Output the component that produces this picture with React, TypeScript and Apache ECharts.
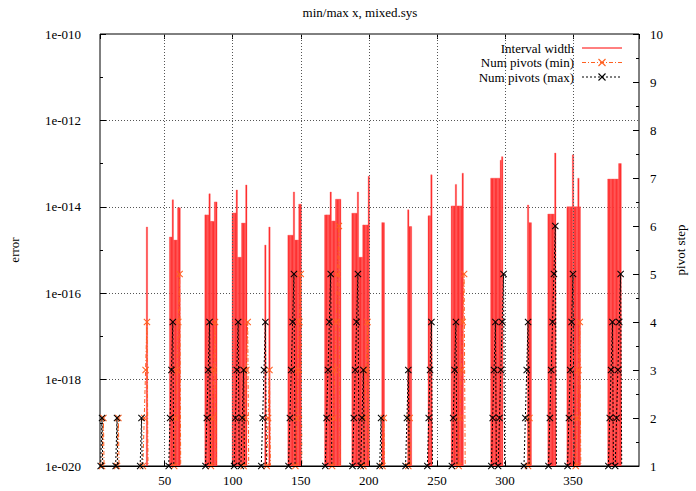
import React, { useEffect, useRef } from 'react';
import * as echarts from 'echarts';

const titleText = 'min/max x, mixed.sys';
const legendLabels = ['Interval width', 'Num pivots (min)', 'Num pivots (max)'];
const leftAxisName = 'error';
const rightAxisName = 'pivot step';

const xMin = 2.5;
const xMax = 398.5;
const xLabelStep = 50;
const errorExpMin = -20;
const errorExpMax = -10;
const errorExpStep = 2;
const pivotAxisMin = 1;
const pivotAxisMax = 10;

// [first x, value at x, value at x+1, ...]
const intervalWidthRuns: number[][] = [
  [37, 3.4e-15],
  [54, 2.0e-15, 2.0e-15, 1.45e-14, 1.7e-15, 1.7e-15, 1.7e-15, 9.5e-15, 9.5e-15],
  [80, 6.5e-15, 6.5e-15, 6.5e-15, 2.0e-14, 4.6e-15, 4.6e-15, 4.6e-15, 1.3e-14, 1.3e-14],
  [100, 7.2e-15, 7.2e-15, 7.2e-15, 2.45e-14, 6.8e-16, 6.8e-16, 6.8e-16, 4.2e-15, 4.2e-15, 4.2e-15, 3.2e-14],
  [124, 1.3e-15],
  [127, 3.4e-15],
  [141, 2.2e-15, 2.2e-15, 2.2e-15, 2.2e-15, 2.2e-14, 1.7e-15, 1.7e-15, 1.7e-15, 1.15e-14, 1.15e-14],
  [168, 6.5e-15, 6.5e-15, 6.5e-15, 6.5e-15, 2.2e-14, 4.7e-15, 4.7e-15, 4.7e-15, 1.5e-14, 1.5e-14, 1.5e-14, 1.5e-14],
  [188, 7.1e-15, 7.1e-15, 7.1e-15, 7.1e-15, 2.2e-14, 6.8e-16, 6.8e-16, 6.8e-16, 3.8e-15, 3.8e-15, 3.8e-15, 3.8e-15, 5.1e-14],
  [210, 4.3e-15, 4.3e-15],
  [229, 8.5e-15, 3.5e-15, 3.5e-15],
  [244, 6.2e-15, 6.2e-15, 5.5e-14],
  [261, 1.05e-14, 1.05e-14, 1.05e-14, 3.3e-14, 1.05e-14, 1.05e-14, 1.05e-14, 1.05e-14, 6.0e-14],
  [290, 4.6e-14, 4.6e-14, 4.6e-14, 4.6e-14, 4.6e-14, 4.6e-14, 4.6e-14, 1.2e-13, 1.45e-13],
  [317, 1.1e-14, 4.3e-15, 4.3e-15],
  [332, 6.8e-15, 6.8e-15, 6.8e-15, 6.8e-15, 6.8e-15, 1.75e-13],
  [346, 1.0e-14, 1.0e-14, 1.0e-14, 1.0e-14, 1.6e-13, 1.0e-14, 1.0e-14, 1.0e-14, 4.6e-14, 1.0e-14],
  [376, 4.4e-14, 4.4e-14, 4.4e-14, 4.4e-14, 4.4e-14, 4.4e-14, 4.4e-14, 4.4e-14, 1.0e-13, 1.0e-13],
];

// [first x, pivot step at x, at x+1, ...]; the step after each run is 0
const pivotsMinRuns: number[][] = [
  [4, 1, 2],
  [15, 1, 2],
  [34, 1, 2, 3, 4],
  [57, 1, 2, 3, 4, 5],
  [84, 1, 2, 3, 4],
  [108, 1, 2, 3, 4],
  [125, 1, 2, 3],
  [146, 1, 2, 3, 4, 5],
  [173, 1, 2, 3, 4, 5, 6],
  [196, 1, 2, 3, 4],
  [210, 1, 2],
  [229, 1, 2],
  [266, 1, 2, 3, 4, 5],
  [317, 1, 2],
  [352, 1, 2, 3, 4],
];

const pivotsMaxRuns: number[][] = [
  [3, 1, 2],
  [14, 1, 2],
  [32, 1, 2],
  [53, 1, 2, 3, 4],
  [80, 1, 2, 3, 4],
  [101, 1, 2, 3, 4],
  [106, 1, 2, 3],
  [121, 1, 2, 3, 4],
  [141, 1, 2, 3, 4, 5],
  [168, 1, 2, 3, 4, 5],
  [188, 1, 2, 3, 4, 5],
  [194, 1, 2, 3],
  [208, 1, 2],
  [227, 1, 2, 3],
  [243, 1, 2, 3, 4],
  [261, 1, 2, 3, 4],
  [290, 1, 2, 3, 4],
  [295, 1, 2, 3, 4, 5],
  [314, 1, 2, 3, 4],
  [332, 1, 2, 3, 4, 5, 6],
  [346, 1, 2, 3, 4, 5],
  [376, 1, 2, 3, 4],
  [381, 1, 2, 3, 4, 5],
];

const RED_BOX = '#ff1f1f';
const RED_EDGE = '#ff6464';
const RED_LINE = '#ff0000';
const ORANGE = '#ff6020';
const BLACK = '#000000';
const GRID_COLOR = '#555555';
const FONT = '"Liberation Serif", "Times New Roman", serif';
const CROSS = 'path://M0,1L1,0L5,4L9,0L10,1L6,5L10,9L9,10L5,6L1,10L0,9L4,5Z';

function buildWidthData(): number[][] {
  const out: number[][] = [];
  intervalWidthRuns.forEach((run) => {
    const start = run[0];
    run.slice(1).forEach((v, i) => out.push([start + i, Math.log10(v)]));
  });
  return out;
}

function buildPivotData(runs: number[][]): any[] {
  const out: any[] = [];
  runs.forEach((run) => {
    const start = run[0];
    const vals = run.slice(1);
    vals.forEach((v, i) => out.push([start + i, v]));
    out.push({ value: [start + vals.length, 0], symbol: 'none' });
    out.push([start + vals.length, '-']);
  });
  return out;
}

export default function App() {
  const ref = useRef<HTMLDivElement>(null);

  useEffect(() => {
    if (!ref.current) return;
    const chart = echarts.init(ref.current, undefined, { renderer: 'svg' });

    const gridLine = { show: true, lineStyle: { color: GRID_COLOR, type: [1, 2] as any, width: 1 }, showMinLine: false, showMaxLine: false };

    const legendY = [48, 62.5, 77];
    const sx0 = 582;
    const sx1 = 622;
    const mx = 602;
    const crossEls = (y: number, color: string) => [
      { type: 'line', shape: { x1: mx - 3.5, y1: y - 3.5, x2: mx + 3.5, y2: y + 3.5 }, style: { stroke: color, lineWidth: 1.1 } },
      { type: 'line', shape: { x1: mx - 3.5, y1: y + 3.5, x2: mx + 3.5, y2: y - 3.5 }, style: { stroke: color, lineWidth: 1.1 } },
    ];

    const option: any = {
      animation: false,
      textStyle: { fontFamily: FONT, fontSize: 13, color: '#000' },
      grid: { left: 96, right: 57, top: 34, bottom: 25, show: true, borderColor: '#000', borderWidth: 1, backgroundColor: 'transparent' },
      xAxis: [
        {
          type: 'value', min: xMin, max: xMax, splitNumber: 8, position: 'bottom', z: 10,
          axisLine: { show: true, lineStyle: { color: '#000', width: 1 } },
          axisTick: { show: true, inside: true, length: 5, lineStyle: { color: '#000' } },
          axisLabel: { margin: 8, color: '#000', fontFamily: FONT, fontSize: 13, showMinLabel: false, showMaxLabel: false,
            formatter: (v: number) => (Math.abs(v % xLabelStep) < 1e-9 ? String(v) : '') },
          splitLine: gridLine,
        },
        {
          type: 'value', min: xMin, max: xMax, splitNumber: 8, position: 'top',
          axisLine: { show: false },
          axisTick: { show: true, inside: true, length: 5, lineStyle: { color: '#000' } },
          axisLabel: { show: false },
          splitLine: { show: false },
        },
      ],
      yAxis: [
        {
          type: 'value', min: errorExpMin, max: errorExpMax, interval: errorExpStep, position: 'left',
          name: leftAxisName, nameLocation: 'middle', nameRotate: 90, nameGap: 79,
          nameTextStyle: { fontFamily: FONT, fontSize: 13, color: '#000' },
          axisLine: { show: false },
          axisTick: { show: true, inside: true, length: 6, lineStyle: { color: '#000' } },
          minorTick: { show: true, splitNumber: 2, length: 3, lineStyle: { color: '#000' } },
          axisLabel: { margin: 19, color: '#000', fontFamily: FONT, fontSize: 13,
            formatter: (v: number) => '1e-' + String(Math.round(-v)).padStart(3, '0') },
          splitLine: gridLine,
        },
        {
          type: 'value', min: pivotAxisMin, max: pivotAxisMax, interval: 1, position: 'right',
          name: rightAxisName, nameLocation: 'middle', nameRotate: 90, nameGap: 31,
          nameTextStyle: { fontFamily: FONT, fontSize: 13, color: '#000' },
          axisLine: { show: false },
          axisTick: { show: true, inside: true, length: 6, lineStyle: { color: '#000' } },
          minorTick: { show: true, splitNumber: 2, length: 3, lineStyle: { color: '#000' } },
          axisLabel: { margin: 11, color: '#000', fontFamily: FONT, fontSize: 13 },
          splitLine: { show: false },
        },
      ],
      series: [
        {
          name: legendLabels[0], type: 'custom', xAxisIndex: 0, yAxisIndex: 0, z: 2,
          encode: { x: 0, y: 1 },
          data: buildWidthData(),
          renderItem: (_params: any, api: any) => {
            const x = api.value(0) as number;
            const v = api.value(1) as number;
            const p1 = api.coord([x - 0.5, v]);
            const p2 = api.coord([x + 0.5, errorExpMin]);
            return {
              type: 'rect',
              shape: { x: p1[0], y: p1[1], width: p2[0] - p1[0], height: p2[1] - p1[1] },
              style: { fill: RED_BOX, stroke: RED_EDGE, lineWidth: 0.4 },
            };
          },
        },
        {
          name: legendLabels[1], type: 'line', xAxisIndex: 0, yAxisIndex: 1, z: 3,
          data: buildPivotData(pivotsMinRuns),
          symbol: CROSS, symbolSize: 7, showSymbol: true, connectNulls: false,
          itemStyle: { color: ORANGE },
          lineStyle: { color: ORANGE, width: 1, type: [4, 2, 1, 2] },
        },
        {
          name: legendLabels[2], type: 'line', xAxisIndex: 0, yAxisIndex: 1, z: 4,
          data: buildPivotData(pivotsMaxRuns),
          symbol: CROSS, symbolSize: 7, showSymbol: true, connectNulls: false,
          itemStyle: { color: BLACK },
          lineStyle: { color: BLACK, width: 1, type: [2, 2] },
        },
      ],
      graphic: [
        { type: 'text', x: 360, y: 12, style: { text: titleText, align: 'center', verticalAlign: 'middle', font: '13px ' + FONT, fill: '#000' } },
        ...legendLabels.map((t, i) => ({
          type: 'text', x: 574, y: legendY[i],
          style: { text: t, align: 'right', verticalAlign: 'middle', font: '13px ' + FONT, fill: '#000' },
        })),
        { type: 'line', shape: { x1: sx0, y1: legendY[0], x2: sx1, y2: legendY[0] }, style: { stroke: RED_LINE, lineWidth: 1 } },
        { type: 'line', shape: { x1: sx0, y1: legendY[1], x2: sx1, y2: legendY[1] }, style: { stroke: ORANGE, lineWidth: 1, lineDash: [4, 2, 1, 2] } },
        ...crossEls(legendY[1], ORANGE),
        { type: 'line', shape: { x1: sx0, y1: legendY[2], x2: sx1, y2: legendY[2] }, style: { stroke: BLACK, lineWidth: 1, lineDash: [2, 2] } },
        ...crossEls(legendY[2], BLACK),
      ],
    };

    chart.setOption(option);
    return () => chart.dispose();
  }, []);

  return <div ref={ref} style={{ position: 'absolute', left: 0, top: 0, width: 696, height: 491 }} />;
}
